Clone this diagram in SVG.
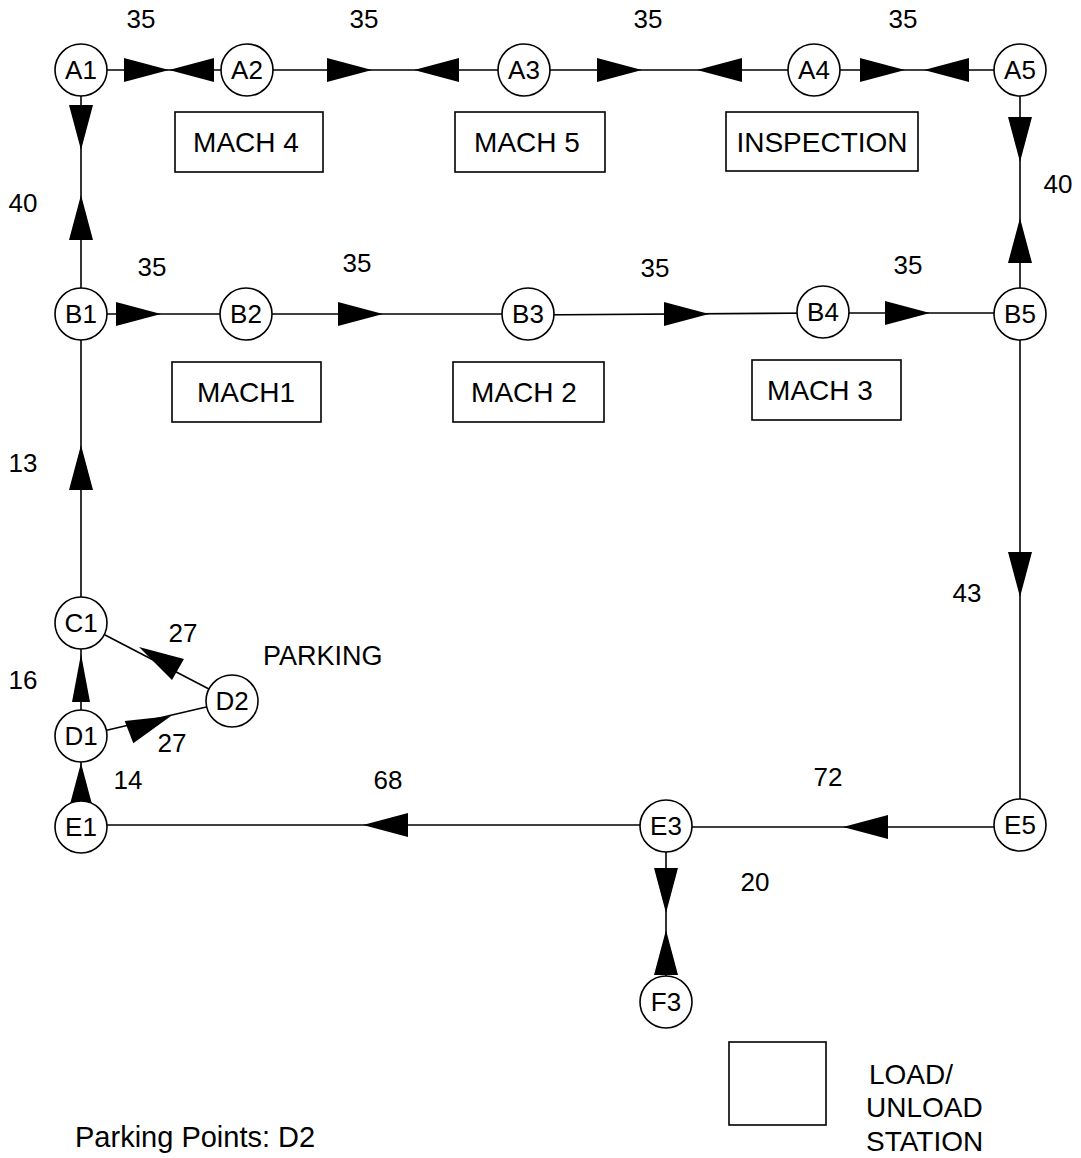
<svg xmlns="http://www.w3.org/2000/svg" width="1081" height="1158" viewBox="0 0 1081 1158">
<style>
  text { font-family: "Liberation Sans", Arial, sans-serif; fill: #000; }
  .n circle { fill: #fff; stroke: #000; stroke-width: 1.6; }
  .n text { font-size: 26px; text-anchor: middle; }
  .box rect { fill: #fff; stroke: #000; stroke-width: 1.6; }
  .box text { font-size: 28px; text-anchor: middle; }
  .lbl { font-size: 26px; text-anchor: middle; }
  .big { font-size: 28px; }
  .edge line { stroke: #000; stroke-width: 1.6; }
  .ah { fill: #000; }
</style>
<defs>
  <path id="ah" class="ah" d="M0,0 L-45,-12 L-45,12 Z"/>
  <path id="ahs" class="ah" d="M0,0 L-48,-9 L-48,9 Z"/>
</defs>
<rect width="1081" height="1158" fill="#fff"/>

<g id="connectors" class="edge">
  <!-- top row -->
  <line x1="81" y1="70" x2="1020" y2="70"/>
  <use href="#ah" transform="translate(169,70)"/>
  <use href="#ah" transform="translate(169,70) rotate(180)"/>
  <use href="#ah" transform="translate(372,70)"/>
  <use href="#ah" transform="translate(414,70) rotate(180)"/>
  <use href="#ah" transform="translate(642,70)"/>
  <use href="#ah" transform="translate(697,70) rotate(180)"/>
  <use href="#ah" transform="translate(905,70)"/>
  <use href="#ah" transform="translate(924,70) rotate(180)"/>
  <!-- A1-B1 -->
  <line x1="81" y1="70" x2="81" y2="314"/>
  <use href="#ah" transform="translate(81,150) rotate(90)"/>
  <use href="#ah" transform="translate(81,195) rotate(-90)"/>
  <!-- A5-B5 -->
  <line x1="1020" y1="70" x2="1020" y2="314"/>
  <use href="#ah" transform="translate(1020,162) rotate(90)"/>
  <use href="#ah" transform="translate(1020,218) rotate(-90)"/>
  <!-- B row -->
  <line x1="81" y1="314" x2="528" y2="314"/>
  <line x1="528" y1="315" x2="823" y2="313"/>
  <line x1="823" y1="313" x2="1020" y2="313"/>
  <use href="#ah" transform="translate(161,314)"/>
  <use href="#ah" transform="translate(383,314)"/>
  <use href="#ah" transform="translate(709,314)"/>
  <use href="#ah" transform="translate(930,313)"/>
  <!-- B1-C1-D1-E1 -->
  <line x1="81" y1="314" x2="81" y2="826"/>
  <use href="#ah" transform="translate(81,445) rotate(-90)"/>
  <use href="#ahs" transform="translate(81,654) rotate(-90)"/>
  <use href="#ah" transform="translate(81,763) rotate(-90)"/>
  <!-- C1-D2, D1-D2 -->
  <line x1="82" y1="623" x2="232" y2="701"/>
  <use href="#ah" transform="translate(139,647) rotate(210)"/>
  <line x1="82" y1="736" x2="232" y2="701"/>
  <use href="#ah" transform="translate(171,716) rotate(-21)"/>
  <!-- B5-E5 -->
  <line x1="1020" y1="313" x2="1020" y2="826"/>
  <use href="#ah" transform="translate(1020,597) rotate(90)"/>
  <!-- E row -->
  <line x1="1020" y1="827" x2="667" y2="827"/>
  <use href="#ah" transform="translate(843,827) rotate(180)"/>
  <line x1="667" y1="825" x2="81" y2="825"/>
  <use href="#ah" transform="translate(363,825) rotate(180)"/>
  <!-- E3-F3 -->
  <line x1="666" y1="826" x2="666" y2="1002"/>
  <use href="#ah" transform="translate(666,913) rotate(90)"/>
  <use href="#ah" transform="translate(666,930) rotate(-90)"/>
</g>

<g id="edge-labels">
  <text class="lbl" x="141" y="28">35</text>
  <text class="lbl" x="364" y="28">35</text>
  <text class="lbl" x="648" y="28">35</text>
  <text class="lbl" x="903" y="28">35</text>
  <text class="lbl" x="152" y="276">35</text>
  <text class="lbl" x="357" y="272">35</text>
  <text class="lbl" x="655" y="277">35</text>
  <text class="lbl" x="908" y="274">35</text>
  <text class="lbl" x="23" y="212">40</text>
  <text class="lbl" x="1058" y="193">40</text>
  <text class="lbl" x="23" y="472">13</text>
  <text class="lbl" x="23" y="689">16</text>
  <text class="lbl" x="967" y="602">43</text>
  <text class="lbl" x="828" y="786">72</text>
  <text class="lbl" x="388" y="789">68</text>
  <text class="lbl" x="128" y="789">14</text>
  <text class="lbl" x="755" y="891">20</text>
  <text class="lbl" x="183" y="642">27</text>
  <text class="lbl" x="172" y="752">27</text>
</g>

<g id="A1" class="n"><circle cx="81" cy="70" r="26"/><text x="81" y="79">A1</text></g>
<g id="A2" class="n"><circle cx="247" cy="70" r="26"/><text x="247" y="79">A2</text></g>
<g id="A3" class="n"><circle cx="524" cy="70" r="26"/><text x="524" y="79">A3</text></g>
<g id="A4" class="n"><circle cx="814" cy="70" r="26"/><text x="814" y="79">A4</text></g>
<g id="A5" class="n"><circle cx="1020" cy="70" r="26"/><text x="1020" y="79">A5</text></g>
<g id="B1" class="n"><circle cx="81" cy="314" r="26"/><text x="81" y="323">B1</text></g>
<g id="B2" class="n"><circle cx="246" cy="314" r="26"/><text x="246" y="323">B2</text></g>
<g id="B3" class="n"><circle cx="528" cy="314" r="26"/><text x="528" y="323">B3</text></g>
<g id="B4" class="n"><circle cx="823" cy="312" r="26"/><text x="823" y="321">B4</text></g>
<g id="B5" class="n"><circle cx="1020" cy="314" r="26"/><text x="1020" y="323">B5</text></g>
<g id="C1" class="n"><circle cx="81" cy="623" r="26"/><text x="81" y="632">C1</text></g>
<g id="D1" class="n"><circle cx="81" cy="736" r="26"/><text x="81" y="745">D1</text></g>
<g id="D2" class="n"><circle cx="232" cy="701" r="26"/><text x="232" y="710">D2</text></g>
<g id="E1" class="n"><circle cx="81" cy="827" r="26"/><text x="81" y="836">E1</text></g>
<g id="E3" class="n"><circle cx="666" cy="826" r="26"/><text x="666" y="835">E3</text></g>
<g id="E5" class="n"><circle cx="1020" cy="825" r="26"/><text x="1020" y="834">E5</text></g>
<g id="F3" class="n"><circle cx="666" cy="1002" r="26"/><text x="666" y="1011">F3</text></g>

<g id="MACH4" class="box"><rect x="175" y="112" width="148" height="60"/><text x="246" y="152">MACH 4</text></g>
<g id="MACH5" class="box"><rect x="455" y="112" width="150" height="60"/><text x="527" y="152">MACH 5</text></g>
<g id="INSPECTION" class="box"><rect x="726" y="112" width="192" height="59"/><text x="822" y="152">INSPECTION</text></g>
<g id="MACH1" class="box"><rect x="172" y="362" width="149" height="60"/><text x="246" y="402">MACH1</text></g>
<g id="MACH2" class="box"><rect x="453" y="362" width="151" height="60"/><text x="524" y="402">MACH 2</text></g>
<g id="MACH3" class="box"><rect x="752" y="360" width="149" height="60"/><text x="820" y="400">MACH 3</text></g>

<g id="parking-label"><text class="big" x="263" y="665" style="font-size:27px">PARKING</text></g>

<g id="legend">
  <rect x="729" y="1042" width="97" height="83" fill="#fff" stroke="#000" stroke-width="1.6"/>
  <text class="big" x="869" y="1084">LOAD/</text>
  <text class="big" x="866" y="1117">UNLOAD</text>
  <text class="big" x="866" y="1151">STATION</text>
</g>
<g id="footer"><text class="big" x="75" y="1147" style="font-size:29px">Parking Points: D2</text></g>
</svg>
